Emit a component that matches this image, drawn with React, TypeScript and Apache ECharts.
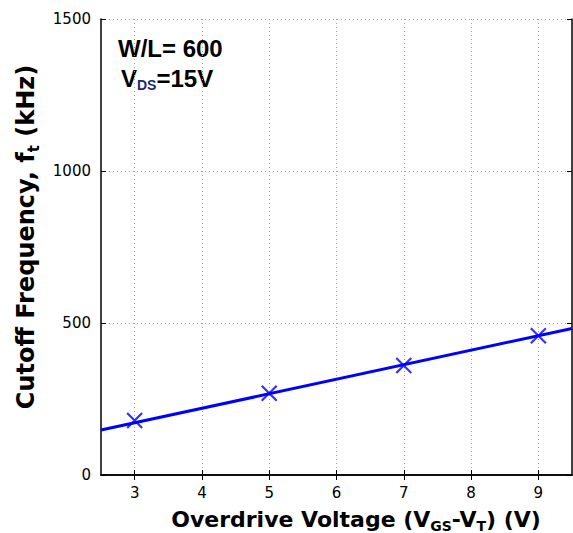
import React, { useEffect, useRef } from "react";
import * as echarts from "echarts";

const measuredX = [3, 5, 7, 9];
const measuredY = [179, 269, 360, 458];
const fitX = [2.5, 9.5];
const fitY = [148, 482];
const xTicks = [3, 4, 5, 6, 7, 8, 9];
const yTicks = [0, 500, 1000, 1500];

const FONT = "DejaVu Sans";
const AFONT = "Liberation Sans";

export default function App() {
  const ref = useRef<HTMLDivElement>(null);
  useEffect(() => {
    const chart = echarts.init(ref.current!, null, { renderer: "svg" });
    const grid = { left: 101, top: 19, width: 471, height: 456 };
    const gridLine = { show: true, lineStyle: { color: "#a0a0a0", type: [1, 3], width: 1 } };
    const axisLine = { show: true, lineStyle: { color: "#000", width: 1.5 } };
    const tickX = { show: true, inside: true, length: 5, lineStyle: { color: "#000", width: 1 }, customValues: xTicks };
    const tickY = { show: true, inside: true, length: 5, lineStyle: { color: "#000", width: 1 } };
    const subStyle = (size: number, pad: number, color = "#000") => ({
      fontFamily: FONT,
      fontSize: size,
      fontWeight: "bold",
      fill: color,
      verticalAlign: "bottom",
      padding: [pad, 0, 0, 0],
    });
    chart.setOption({
      animation: false,
      backgroundColor: "#fff",
      grid,
      xAxis: [
        {
          type: "value",
          min: 2.5,
          max: 9.5,
          position: "bottom",
          axisLine,
          axisTick: tickX,
          splitLine: gridLine,
          axisLabel: {
            customValues: xTicks,
            color: "#000",
            fontFamily: FONT,
            fontSize: 15,
            margin: 10,
          },
        },
        {
          type: "value",
          min: 2.5,
          max: 9.5,
          position: "top",
          axisLine,
          axisTick: tickX,
          splitLine: { show: false },
          axisLabel: { show: false },
        },
      ],
      yAxis: [
        {
          type: "value",
          min: yTicks[0],
          max: yTicks[yTicks.length - 1],
          interval: 500,
          position: "left",
          axisLine,
          axisTick: tickY,
          splitLine: gridLine,
          axisLabel: {
            color: "#000",
            fontFamily: FONT,
            fontSize: 15,
            margin: 10,
            formatter: (v: number) => String(v),
          },
        },
        {
          type: "value",
          min: yTicks[0],
          max: yTicks[yTicks.length - 1],
          interval: 500,
          position: "right",
          axisLine,
          axisTick: tickY,
          splitLine: { show: false },
          axisLabel: { show: false },
        },
      ],
      series: [
        {
          type: "line",
          data: fitX.map((x, i) => [x, fitY[i]]),
          showSymbol: false,
          lineStyle: { color: "#0000ff", width: 3 },
          z: 2,
        },
        {
          type: "scatter",
          data: measuredX.map((x, i) => [x, measuredY[i]]),
          symbol: "path://M0,0L10,10M10,0L0,10",
          symbolSize: 15,
          itemStyle: { color: "none", borderColor: "#0000ff", borderWidth: 2.2 },
          z: 3,
        },
      ],
      graphic: [
        {
          type: "text",
          x: 356,
          y: 519,
          style: {
            text: "Overdrive Voltage (V{s|GS}-V{s|T}) (V)",
            fontFamily: FONT,
            fontSize: 22,
            fontWeight: "bold",
            fill: "#000",
            align: "center",
            verticalAlign: "middle",
            rich: { s: subStyle(14, 14) },
          },
        },
        {
          type: "text",
          x: 26,
          y: 237,
          rotation: Math.PI / 2,
          style: {
            text: "Cutoff Frequency, f{s|t} (kHz)",
            fontFamily: FONT,
            fontSize: 24,
            fontWeight: "bold",
            fill: "#000",
            align: "center",
            verticalAlign: "middle",
            rich: { s: subStyle(15, 15) },
          },
        },
        {
          type: "text",
          x: 118,
          y: 48,
          style: {
            text: "W/L= 600",
            fontFamily: AFONT,
            fontSize: 24,
            fontWeight: "bold",
            fill: "#000",
            align: "left",
            verticalAlign: "middle",
          },
        },
        {
          type: "text",
          x: 121,
          y: 78,
          style: {
            text: "V{s|DS}=15V",
            fontFamily: AFONT,
            fontSize: 24,
            fontWeight: "bold",
            fill: "#000",
            align: "left",
            verticalAlign: "middle",
            rich: { s: { ...subStyle(14, 14, "#1a2a6c"), fontFamily: AFONT } },
          },
        },
      ],
    });
    return () => chart.dispose();
  }, []);
  return <div ref={ref} style={{ position: "fixed", left: 0, top: 0, width: 573, height: 533 }} />;
}
